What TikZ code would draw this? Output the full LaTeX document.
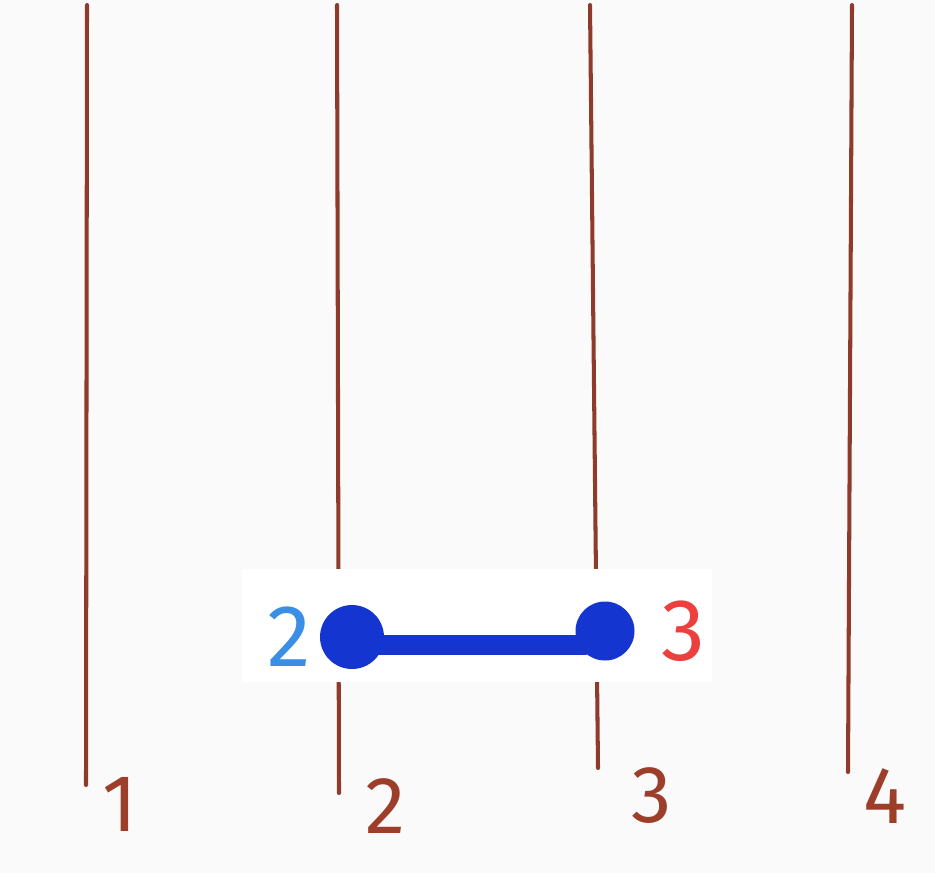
\documentclass[tikz,border=0pt]{standalone}
\usepackage{fontspec}
\setmainfont{Fira Sans}
\usetikzlibrary{positioning,calc}
\definecolor{paper}{HTML}{FAFAFA}
\definecolor{wirebrown}{HTML}{8E3B2C}
\definecolor{labelbrown}{HTML}{9C3E2A}
\definecolor{beadblue}{HTML}{1535D0}
\definecolor{tagblue}{HTML}{3A8EE6}
\definecolor{tagred}{HTML}{EE3F3F}
\tikzset{
    wireline/.style={draw=wirebrown, line width=2.3pt, line cap=round},
    wirelabel/.style={text=labelbrown, font=\fontsize{46}{46}\selectfont, inner sep=0pt},
    cardbox/.style={fill=white, draw=none, minimum width=9.4cm, minimum height=2.26cm},
    beadbig/.style={circle, fill=beadblue, minimum size=1.28cm, inner sep=0pt},
    beadsmall/.style={circle, fill=beadblue, minimum size=1.18cm, inner sep=0pt},
    beadbar/.style={draw=beadblue, line width=11pt, line cap=round},
    beadtag/.style={font=\fontsize{50}{50}\selectfont, inner sep=0pt}
}
\begin{document}
\begin{tikzpicture}[x=0.02cm, y=-0.02cm]
    \useasboundingbox[fill=paper] (0,0) rectangle (935,873);
    % vertical wires
    \coordinate (top1) at (87,5);    \coordinate (end1) at (86,785);
    \coordinate (top2) at (337,5);   \coordinate (end2) at (339,793);
    \coordinate (top3) at (590,5);   \coordinate (end3) at (598,768);
    \coordinate (top4) at (852,5);   \coordinate (end4) at (848,772);
    \foreach \i in {1,...,4}
        \draw[wireline] (top\i) -- (end\i);
    \node[wirelabel] (num1) at (120,804) {1};
    \node[wirelabel] (num2) at (385,806) {2};
    \node[wirelabel] (num3) at (652,796) {3};
    \node[wirelabel] (num4) at (885,796) {4};
    % inset card with the bead
    \node[cardbox] (card) at (477,625.5) {};
    \node[beadbig] (beadL) at (352,637) {};
    \node[beadsmall] (beadR) at (605,631) {};
    \coordinate (barL) at ($(beadL.center)+(20,8)$);
    \coordinate (barR) at ($(beadR.center)+(-20,14)$);
    \draw[beadbar] (barL) -- (barR);
    \node[beadtag, text=tagblue, left=5pt of beadL] (tagL) {2};
    \node[beadtag, text=tagred, right=15pt of beadR] (tagR) {3};
\end{tikzpicture}
\end{document}
